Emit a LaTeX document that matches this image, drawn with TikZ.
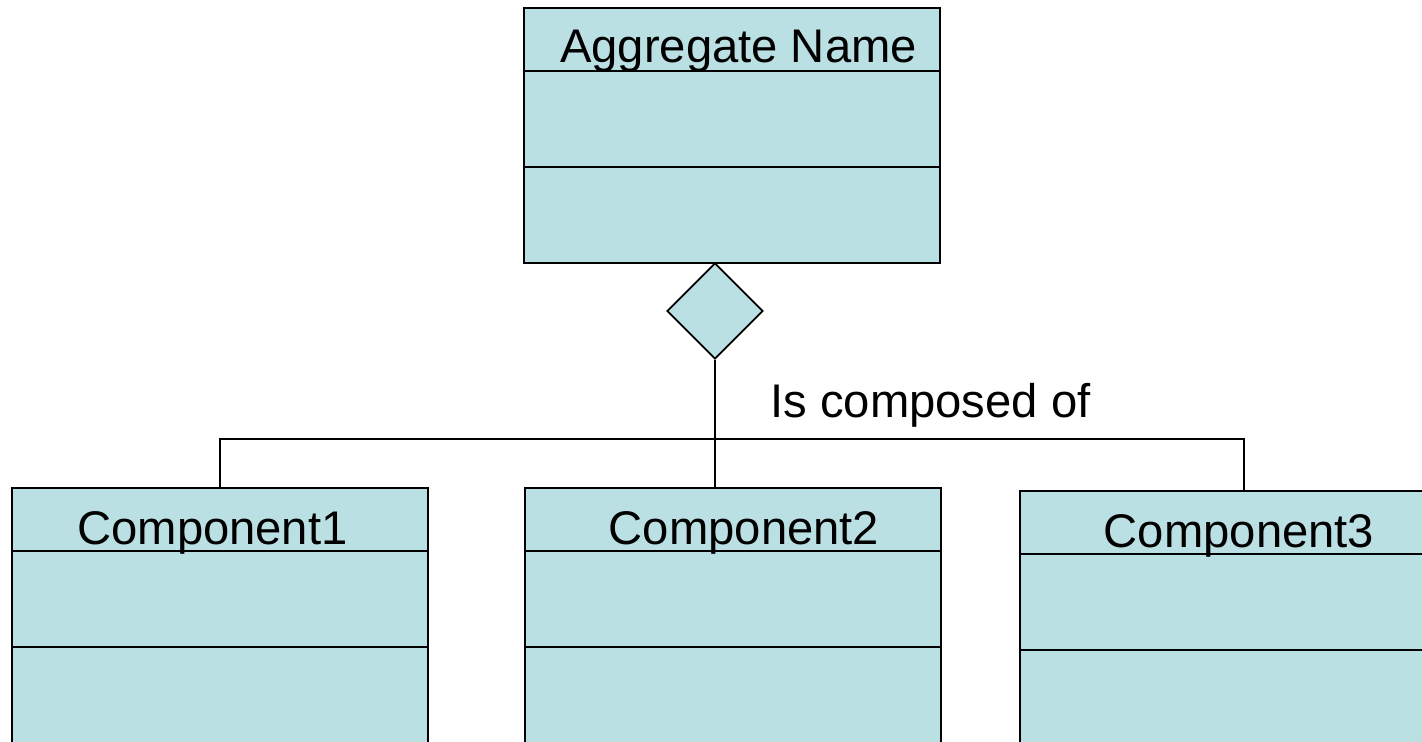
\documentclass[tikz,border=0pt]{standalone}
\usepackage{fontspec}
\setmainfont{Liberation Sans}
\usetikzlibrary{shapes.geometric,calc}
\definecolor{umlfill}{HTML}{BBE0E3}
\begin{document}
\begin{tikzpicture}[x=0.5pt,y=-0.5pt,
  classbox/.style={draw=black,line width=1pt,fill=umlfill,rectangle,
    anchor=north west,inner sep=0pt,minimum width=208pt,minimum height=#1},
  divider/.style={draw=black,line width=1pt},
  title/.style={inner sep=0pt,anchor=base,font=\fontsize{23.6}{28}\selectfont},
  link/.style={draw=black,line width=0.9pt},
  aggdiamond/.style={diamond,draw=black,fill=umlfill,line width=0.9pt,
    inner sep=0pt,minimum width=48pt,minimum height=48pt}
]
\useasboundingbox (0,0) rectangle (1422,742);
\begin{scope}
\clip (0,0) rectangle (1422,742);

% aggregate class
\node[classbox=127.5pt] (agg) at (522.7,7) {};
\draw[divider] ($(agg.north west)+(0,64)$) -- ($(agg.north east)+(0,64)$);
\draw[divider] ($(agg.north west)+(0,160)$) -- ($(agg.north east)+(0,160)$);
\node[title] (aggname) at (738.5,63) {Aggregate Name};

% component classes
\node[classbox=160pt] (c1) at (11,487) {};
\node[classbox=160pt] (c2) at (524,487) {};
\node[classbox=160pt] (c3) at (1019,490) {};
\foreach \c in {c1,c2,c3}{
  \draw[divider] ($(\c.north west)+(0,64)$) -- ($(\c.north east)+(0,64)$);
  \draw[divider] ($(\c.north west)+(0,160)$) -- ($(\c.north east)+(0,160)$);
}
\node[title] (c1name) at (212.5,544) {Component1};
\node[title] (c2name) at (744,544) {Component2};
\node[title] (c3name) at (1239,547) {Component3};

% composition diamond and connectors
\node[aggdiamond] (dia) at (715,311) {};
\coordinate (bus) at (715,439);
\draw[link] (dia.south) -- (dia.south |- c2.north);
\draw[link] (c1.north) |- (bus) -| ($(c3.north)+(16,0)$);

\node[title] (lbl) at (930.5,417) {Is composed of};
\end{scope}
\end{tikzpicture}
\end{document}
